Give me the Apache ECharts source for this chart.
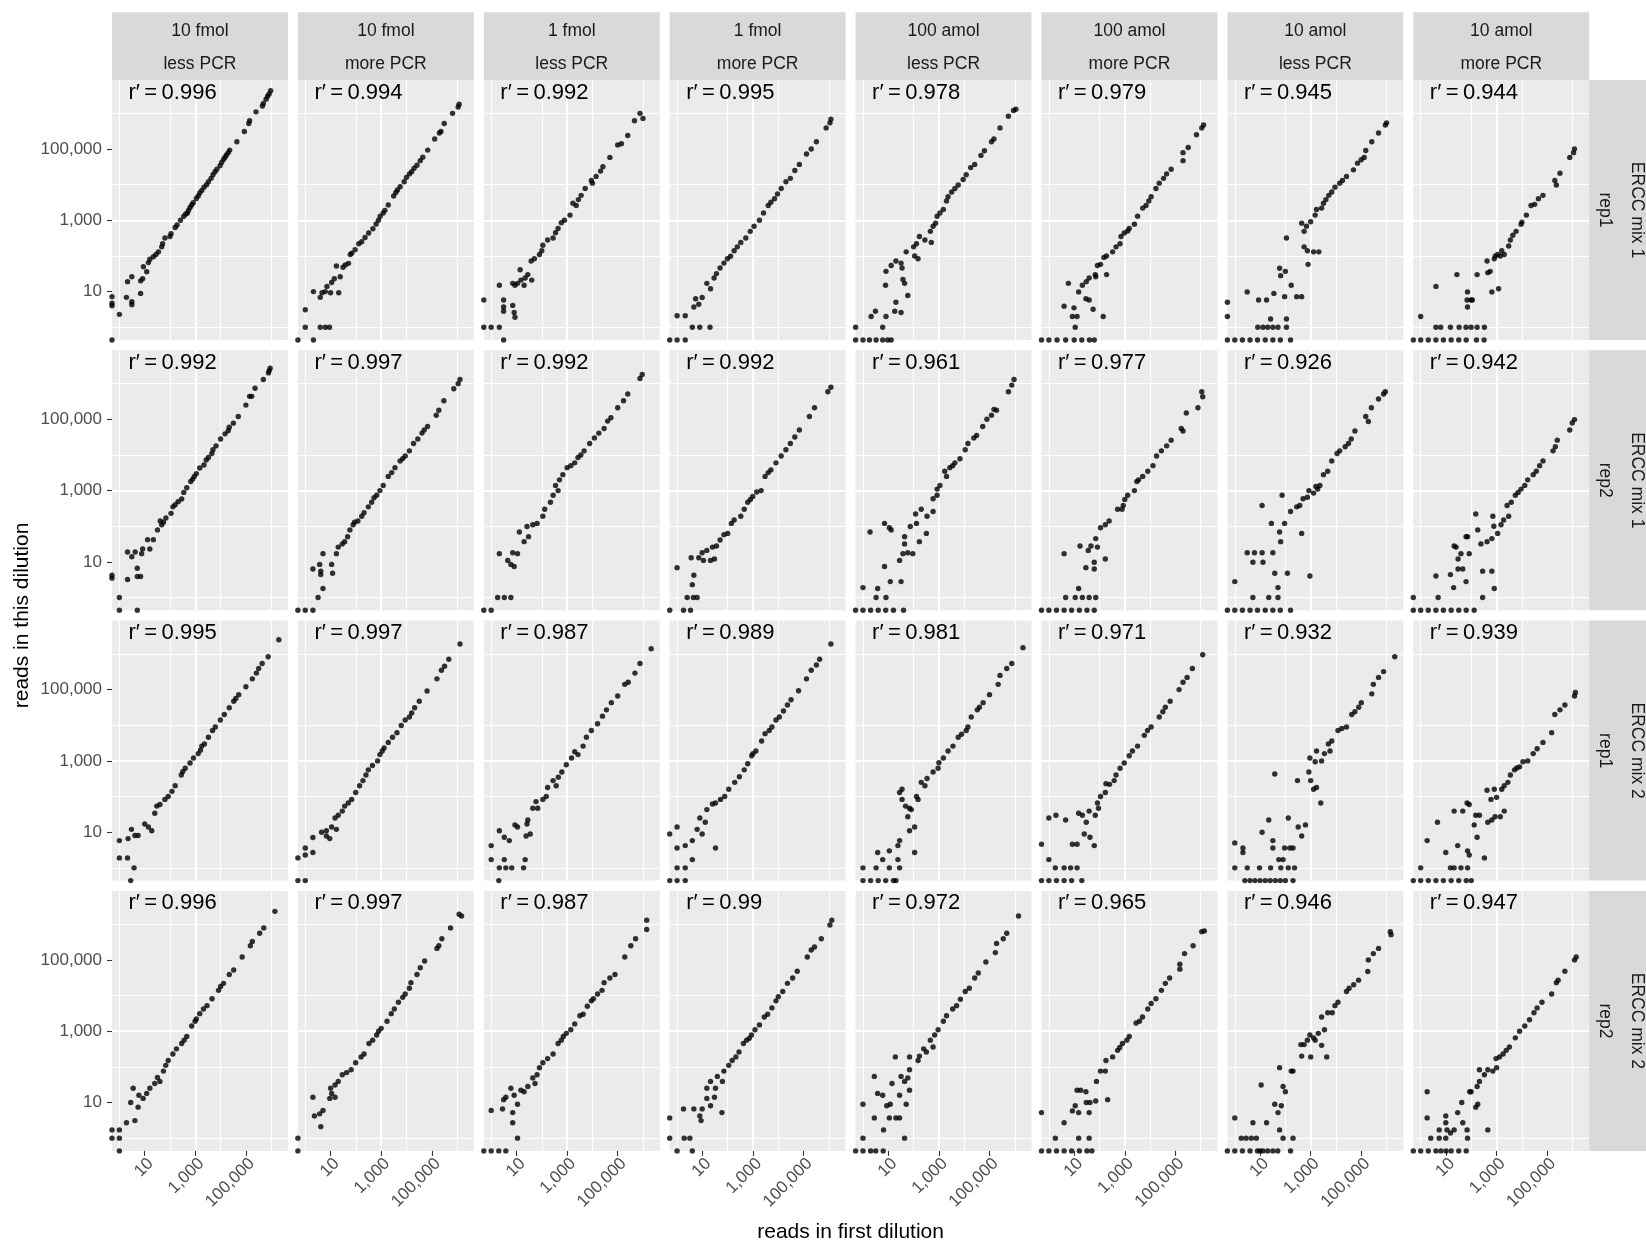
<!DOCTYPE html>
<html>
<head>
<meta charset="utf-8">
<script src="https://cdn.jsdelivr.net/npm/echarts@6/dist/echarts.min.js"></script>
<style>
  html, body { margin: 0; padding: 0; background: #ffffff; }
  #chart { width: 1646px; height: 1245px; }
</style>
</head>
<body>
<div id="chart"></div>
<script>
// ERCC spike-in read counts, one pair per transcript:
// [reads in first dilution, reads in this dilution]; 0 means no reads.

// ERCC mix 1, rep1
const m1r1_10fLess = [[9.5e5,4.3e6],[8.3e5,3.5e6],[7.2e5,3.0e6],[6.3e5,2.5e6],[4.9e5,1.9e6],[4.5e5,1.6e6],[2.5e5,1.1e6],[1.4e5,6.2e5],[1.3e5,5.2e5],[8.7e4,3.1e5],[4.4e4,1.6e5],[2.3e4,9.3e4],[2.0e4,7.9e4],[1.7e4,6.8e4],[1.5e4,5.9e4],[1.3e4,5.1e4],[1.1e4,4.2e4],[9500,3.4e4],[7100,2.7e4],[6000,2.3e4],[5000,1.9e4],[4200,1.5e4],[3300,1.2e4],[2800,1.0e4],[2200,8500],[1800,6900],[1500,5800],[1300,4800],[1100,4100],[830,3100],[720,2700],[620,2300],[540,1900],[490,1600],[420,1500],[350,1300],[260,1000],[190,740],[160,630],[110,420],[100,350],[63,320],[51,220],[47,180],[35,130],[28,110],[22,95],[16,81],[14,65],[12,36],[8.9,50],[8.3,23],[6.9,20],[3.1,26],[2.1,19],[3.1,4.3],[3.1,5.2],[1.9,6.9],[6.9,8.9],[1,2.3],[0,7.2],[0,4.7],[0,4],[0,0]];
const m1r1_10fMore = [[1.2e6,1.8e6],[1.1e6,1.5e6],[6.6e5,1.0e6],[3.1e5,5.2e5],[2.3e5,3.1e5],[2.0e5,2.8e5],[1.3e5,1.9e5],[6.9e4,9.3e4],[4.4e4,5.9e4],[3.5e4,4.7e4],[2.6e4,3.5e4],[2.0e4,2.9e4],[1.6e4,2.3e4],[1.3e4,2.0e4],[1.0e4,1.6e4],[8100,1.2e4],[5600,8700],[4400,7100],[3800,6000],[3100,4800],[1900,2700],[1400,1900],[1200,1600],[910,1300],[780,1000],[630,790],[470,580],[320,440],[230,330],[170,250],[130,220],[93,150],[69,120],[60,110],[51,62],[38,56],[31,48],[24,26],[17,52],[14,23],[11,18],[7.2,14],[6.2,10],[4.6,9.3],[3.9,6.9],[10,9.3],[21,9.3],[2.1,10],[1,3.1],[1,1],[3.9,1],[6.2,1],[9.1,1],[2.1,0],[0,0]];
const m1r1_1fLess = [[7.6e5,1.0e6],[1.0e6,7.2e5],[4.6e5,6.2e5],[2.5e5,2.4e5],[1.4e5,1.4e5],[1.0e5,1.3e5],[4.9e4,5.8e4],[2.6e4,3.2e4],[2.1e4,2.4e4],[1.4e4,1.7e4],[1.0e4,1.1e4],[9100,1.3e4],[5200,7800],[3600,5000],[2800,3800],[2300,2600],[1700,3000],[1300,1400],[790,1000],[590,850],[440,590],[350,450],[280,320],[170,280],[110,200],[100,140],[81,110],[51,83],[38,72],[40,21],[28,30],[22,24],[20,15],[14,41],[15,21],[11,17],[8.7,15],[7.1,17],[2.1,15],[3.1,5.8],[3.1,3.7],[3.1,2.8],[7.1,4.1],[8.1,2.6],[8.7,1.9],[0,5.8],[0,1],[1,1],[2.1,1],[3.1,0]];
const m1r1_1fMore = [[1.2e6,6.8e5],[1.1e6,5.4e5],[7.8e5,3.9e5],[3.2e5,1.6e5],[2.0e5,1.0e5],[1.3e5,7.2e4],[6.8e4,3.7e4],[4.5e4,2.5e4],[3.0e4,1.5e4],[2.0e4,1.2e4],[1.3e4,7800],[9300,5500],[7100,4000],[5100,3200],[4000,2600],[2600,1600],[1800,1000],[1100,680],[780,490],[520,320],[330,240],[240,180],[180,140],[130,98],[98,83],[71,63],[50,46],[36,32],[29,24],[21,12],[15,17],[9.8,6.8],[7.2,4.4],[5.4,6.3],[4.6,3.7],[2.1,2.1],[1,2.1],[4,1],[7.9,1],[20,1],[0,0],[1,0],[2.1,0]];
const m1r1_100aLess = [[1.1e6,1.3e6],[8.9e5,1.2e6],[5.6e5,8.3e5],[2.6e5,3.9e5],[1.5e5,1.9e5],[1.2e5,1.6e5],[6.3e4,8.9e4],[4.6e4,6.6e4],[2.6e4,3.7e4],[1.8e4,3.0e4],[1.2e4,1.9e4],[9100,1.4e4],[5800,9800],[4300,7800],[3200,6200],[2300,4600],[2000,3500],[1500,2000],[1100,1600],[850,1300],[740,830],[590,680],[460,490],[500,240],[280,280],[170,350],[130,220],[100,180],[110,100],[150,83],[51,130],[32,63],[20,72],[13,54],[8.1,37],[7.8,15],[35,46],[38,22],[44,17],[59,7.8],[20,5],[18,2.8],[32,2.6],[8.1,2],[3.1,2.8],[2.1,2],[6,1],[0,1],[0,0],[1,0],[1.8,0],[3.3,0],[6,0],[9.5,0],[13,0]];
const m1r1_100aMore = [[1.3e6,4.7e5],[1.1e6,3.9e5],[6.8e5,2.5e5],[3.2e5,1.1e5],[2.0e5,7.9e4],[2.0e5,4.7e4],[6.8e4,2.7e4],[4.5e4,2.0e4],[3.4e4,1.5e4],[2.3e4,1.1e4],[1.7e4,7800],[1.1e4,4600],[8900,3500],[6900,2600],[5100,2200],[3200,1300],[2400,780],[1500,590],[1300,500],[950,440],[710,350],[650,220],[450,180],[330,130],[190,100],[150,91],[110,58],[83,54],[68,30],[39,24],[30,19],[21,15],[15,9.8],[29,6.3],[39,5.8],[56,3.2],[140,2],[190,30],[71,26],[5.9,17],[4,3.9],[9.8,3.5],[13,2],[8.5,2],[11,1],[0,0],[1,0],[2.1,0],[4.6,0],[10,0],[20,0],[40,0],[62,0]];
const m1r1_10aLess = [[1.0e6,5.4e5],[8.9e5,4.7e5],[4.8e5,2.8e5],[2.6e5,1.6e5],[1.5e5,9.1e4],[1.3e5,5.8e4],[1.0e5,5.0e4],[7.1e4,4.0e4],[4.9e4,2.6e4],[2.6e4,1.7e4],[1.8e4,1.3e4],[1.4e4,1.1e4],[9100,8500],[6800,6200],[5200,5000],[4000,3800],[3200,3000],[2700,2200],[1700,2000],[1500,1400],[1000,910],[1300,130],[2100,130],[740,140],[550,180],[550,490],[440,830],[680,680],[790,58],[110,320],[100,37],[59,45],[65,28],[170,15],[93,7.2],[280,7.2],[440,7.2],[35,8.9],[18,5.8],[8.7,5.8],[3.1,9.8],[0,5],[0,2],[26,1.7],[110,1.7],[8.1,1],[13,1],[20,1],[32,1],[51,1],[110,1],[0,0],[1,0],[2,0],[4,0],[7.9,0],[16,0],[32,0],[63,0],[160,0]];
const m1r1_10aMore = [[1.2e6,1.0e5],[1.1e6,7.9e4],[7.8e5,5.8e4],[3.2e5,2.1e4],[2.0e5,1.3e4],[2.3e5,9800],[6.8e4,5000],[4.5e4,4000],[3.2e4,2800],[2.3e4,2600],[1.5e4,1400],[1.0e4,890],[9300,780],[5900,490],[4400,380],[3500,280],[3000,190],[2000,110],[1600,140],[1400,100],[1100,110],[890,100],[810,83],[560,37],[450,34],[420,72],[1200,12],[650,9.8],[170,30],[71,9.8],[68,5.8],[98,5.8],[110,5.8],[71,3.7],[27,30],[4,14],[1,2],[4,1],[6.2,1],[15,1],[33,1],[62,1],[98,1],[170,1],[330,1],[0,0],[1,0],[2,0],[4,0],[7.9,0],[16,0],[32,0],[63,0],[160,0],[320,0]];

// ERCC mix 1, rep2
const m1r2_10fLess = [[9.1e5,2.7e6],[8.3e5,2.3e6],[7.8e5,2.0e6],[4.9e5,1.3e6],[2.3e5,7.4e5],[1.7e5,4.4e5],[1.4e5,4.4e5],[1.0e5,2.5e5],[5.0e4,1.2e5],[3.2e4,7.8e4],[2.2e4,6.0e4],[2.0e4,4.8e4],[1.5e4,3.9e4],[1.0e4,2.8e4],[6600,1.8e4],[5000,1.4e4],[4500,1.1e4],[3300,8500],[2700,7200],[2200,5200],[1500,4300],[1100,3000],[910,2500],[790,2100],[660,1800],[460,1200],[350,890],[290,580],[210,490],[160,400],[130,350],[110,230],[69,170],[55,130],[47,110],[41,140],[32,79],[22,42],[13,42],[16,23],[8.3,23],[7.6,17],[4.2,19],[3.1,14],[2.1,19],[5.1,6.6],[5.1,3.9],[6.9,3.9],[2.1,3.2],[1,1],[0,4.2],[0,3.5],[1,0],[5.1,0]];
const m1r2_10fMore = [[1.3e6,1.3e6],[1.1e6,1.0e6],[7.4e5,7.2e5],[3.0e5,3.3e5],[1.9e5,1.8e5],[1.5e5,1.3e5],[6.8e4,6.3e4],[5.0e4,5.0e4],[4.1e4,4.1e4],[2.8e4,2.8e4],[1.9e4,2.1e4],[1.3e4,1.3e4],[8900,9300],[7100,7900],[5600,6800],[3500,4400],[2600,3200],[1900,2500],[1200,1400],[890,1000],[660,740],[520,630],[420,470],[310,350],[210,240],[170,190],[120,140],[89,130],[78,110],[58,79],[47,51],[36,37],[29,32],[20,26],[17,17],[11,8.5],[12,4.8],[5,17],[3.7,8.5],[4.1,5.5],[4.1,4.4],[5,1.8],[2,6.3],[3.2,1],[0,0],[1,0],[2,0]];
const m1r2_1fLess = [[9.3e5,1.8e6],[7.6e5,1.4e6],[2.5e5,5.1e5],[1.7e5,3.3e5],[1.0e5,2.1e5],[5.4e4,1.1e5],[4.0e4,8.9e4],[2.9e4,5.5e4],[1.8e4,4.1e4],[1.2e4,3.0e4],[7800,2.1e4],[4700,1.3e4],[3500,1.0e4],[2700,8500],[2000,6000],[1400,5000],[1000,4400],[680,2800],[500,2000],[440,1000],[350,1400],[280,740],[220,470],[130,300],[110,190],[65,120],[44,110],[26,98],[30,51],[20,37],[13,69],[11,17],[7.1,18],[4.5,11],[2.1,17],[6,8.5],[8.1,7.4],[1.8,1],[3.3,1],[6,1],[0,0],[1,0]];
const m1r2_1fMore = [[1.2e6,7.9e5],[9.1e5,5.9e5],[2.7e5,2.1e5],[1.7e5,1.2e5],[6.8e4,5.0e4],[4.5e4,3.2e4],[3.0e4,2.1e4],[2.0e4,1.4e4],[1.3e4,9300],[8100,6000],[5100,3800],[4000,3200],[3000,2500],[2100,1000],[1400,910],[980,680],[790,560],[620,470],[450,300],[330,190],[180,150],[140,120],[100,63],[71,58],[50,41],[36,28],[25,26],[15,21],[11,11],[21,11],[30,12],[9.8,18],[7.2,13],[3.6,13],[1,6.9],[4.6,4.2],[4,2.3],[2.5,1],[4.4,1],[6.2,1],[0,0],[1.8,0],[3.4,0]];
const m1r2_100aLess = [[9.3e5,1.3e6],[7.6e5,9.1e5],[5.6e5,5.9e5],[1.9e5,1.8e5],[1.5e5,1.9e5],[1.2e5,1.3e5],[7.9e4,1.0e5],[5.4e4,6.3e4],[3.1e4,3.5e4],[2.4e4,3.0e4],[1.4e4,2.1e4],[1.1e4,1.4e4],[6800,7800],[4300,6000],[3500,5000],[2700,4400],[2000,2500],[1700,3500],[1100,1400],[850,1100],[850,740],[590,590],[590,260],[340,190],[200,300],[120,220],[130,120],[320,63],[170,37],[74,98],[44,51],[44,32],[38,17],[59,18],[93,17],[28,11],[11,91],[13,79],[7.1,120],[1.9,69],[7.1,7.4],[12,2.8],[32,2.8],[3.8,1.8],[1,1.9],[3.3,1],[8.1,1],[0,0],[1,0],[2,0],[4,0],[7.9,0],[16,0],[40,0]];
const m1r2_100aMore = [[1.1e6,5.9e5],[1.2e6,4.3e5],[7.8e5,2.1e5],[2.7e5,1.5e5],[1.7e5,5.5e4],[2.0e5,4.7e4],[6.8e4,2.6e4],[4.5e4,1.8e4],[2.8e4,1.3e4],[1.8e4,9300],[1.3e4,5000],[8100,3500],[5100,2500],[3500,2000],[3000,1800],[2400,1000],[1300,740],[1000,560],[870,380],[780,300],[520,300],[240,140],[170,110],[110,91],[71,45],[83,26],[46,28],[36,21],[17,28],[29,6.9],[62,6.3],[62,9.8],[170,12],[4,17],[15,1.8],[4.6,1],[11,1],[21,1],[39,1],[71,1],[0,0],[1,0],[2,0],[4,0],[7.9,0],[16,0],[32,0],[62,0]];
const m1r2_10aLess = [[8.9e5,5.9e5],[7.6e5,5.1e5],[4.8e5,3.7e5],[2.5e5,2.1e5],[1.5e5,1.2e5],[1.9e5,8.7e4],[5.6e4,4.7e4],[4.0e4,2.8e4],[3.1e4,2.1e4],[2.3e4,1.7e4],[1.4e4,1.3e4],[1.1e4,1.1e4],[6800,6800],[4700,3500],[3200,2800],[2300,1400],[1900,1100],[1600,1300],[1300,850],[850,1000],[740,650],[500,590],[370,380],[280,350],[160,260],[93,120],[74,740],[440,63],[59,69],[65,37],[28,120],[12,380],[32,18],[6,18],[3.1,18],[12,18],[5.2,9.8],[13,9.8],[1,2.8],[38,4.8],[120,4.8],[930,4],[51,1.9],[5.2,1],[22,1],[51,1],[0,0],[1,0],[2,0],[4,0],[7.9,0],[16,0],[32,0],[63,0],[160,0]];
const m1r2_10aMore = [[1.2e6,9.8e4],[9.8e5,7.9e4],[7.8e5,5.0e4],[2.5e5,2.6e4],[2.1e5,1.7e4],[1.7e5,1.3e4],[6.8e4,6800],[5.0e4,5000],[3.7e4,3500],[2.8e4,2800],[1.7e4,2000],[1.3e4,1400],[9300,1100],[7100,890],[5500,740],[3800,470],[2600,380],[3000,190],[1900,150],[1500,110],[1100,63],[780,100],[650,45],[710,190],[420,37],[240,32],[150,220],[180,79],[71,51],[62,51],[83,17],[39,17],[21,28],[30,6.3],[25,26],[15,4.4],[20,1.9],[30,12],[46,6.3],[62,2.8],[280,5.5],[650,5.5],[280,1],[810,1.8],[4,4],[4.9,1],[0,1],[0,0],[1,0],[2,0],[4,0],[7.9,0],[16,0],[32,0],[63,0],[130,0]];

// ERCC mix 2, rep1
const m2r1_10fLess = [[2.0e6,2.5e6],[7.6e5,8.3e5],[4.4e5,5.4e5],[3.2e5,3.9e5],[2.6e5,2.9e5],[1.8e5,2.0e5],[1.0e5,1.2e5],[5.2e4,7.2e4],[4.0e4,5.6e4],[3.3e4,4.7e4],[2.2e4,3.1e4],[1.4e4,2.0e4],[9800,1.4e4],[6200,8900],[4800,7100],[3300,4600],[2300,3000],[1800,2600],[1600,2000],[1300,1600],[850,1200],[620,870],[400,620],[320,500],[280,400],[160,200],[120,140],[85,100],[63,83],[40,60],[30,54],[25,34],[19,11],[14,14],[10,17],[5.5,8.1],[4.1,8.1],[3.0,12],[2.2,6.6],[1,5.8],[1,1.9],[2.1,1.9],[3.8,1],[2.8,0]];
const m2r1_10fMore = [[1.3e6,1.9e6],[4.7e5,7.1e5],[3.2e5,4.5e5],[2.4e5,3.5e5],[1.6e5,2.0e5],[6.5e4,9.1e4],[3.2e4,4.7e4],[2.1e4,3.1e4],[1.6e4,2.2e4],[1.3e4,1.7e4],[8900,1.4e4],[6200,9800],[4200,6200],[2800,4600],[1900,3300],[1300,2300],[1100,1900],[890,1500],[720,1000],[450,740],[310,560],[250,400],[190,280],[140,200],[98,130],[68,83],[50,66],[36,54],[29,39],[20,30],[15,25],[11,14],[17,12],[9.3,6.6],[6.8,11],[6.8,7.8],[4.4,10],[2,7.1],[1,3.6],[1,2.3],[2,2.7],[0,1.9],[1,0],[0,0]];
const m2r1_1fLess = [[2.1e6,1.4e6],[7.6e5,5.4e5],[4.8e5,2.9e5],[2.6e5,1.6e5],[1.9e5,1.4e5],[1.0e5,6.6e4],[5.6e4,4.3e4],[3.6e4,2.7e4],[2.5e4,1.8e4],[1.6e4,1.1e4],[9100,7100],[5800,4600],[4300,2600],[2700,1500],[2000,1800],[1500,1200],[930,780],[620,490],[450,350],[370,200],[280,280],[170,180],[150,100],[110,83],[69,47],[44,47],[59,72],[28,22],[26,17],[35,8.9],[24,7.8],[11,14],[8.7,16],[5.2,5.8],[3.3,7.2],[2.1,11],[1,4.2],[1,1.7],[3.3,1.7],[2.1,1],[3.8,1],[6.5,1],[22,1.7],[19,1],[2,0]];
const m2r1_1fMore = [[1.2e6,1.9e6],[4.3e5,7.1e5],[3.2e5,4.9e5],[2.0e5,3.5e5],[1.3e5,2.0e5],[6.3e4,9.3e4],[3.2e4,5.2e4],[2.3e4,3.7e4],[1.6e4,2.5e4],[1.1e4,1.7e4],[8100,1.4e4],[5600,8900],[4400,7100],[3000,5800],[2200,3600],[1300,1900],[1000,1600],[890,1400],[620,830],[450,560],[290,360],[190,250],[110,160],[76,100],[52,83],[33,66],[25,62],[15,43],[7.9,25],[13,19],[6.2,12],[9.8,8.9],[4,5.8],[33,3.6],[1,14],[0,8.9],[1,3.6],[2.1,4.2],[4,1.7],[1,1],[2.1,1],[0,0],[1,0],[2.1,0]];
const m2r1_100aLess = [[2.1e6,1.5e6],[7.6e5,5.4e5],[4.8e5,3.9e5],[2.6e5,2.5e5],[2.2e5,1.4e5],[1.0e5,7.2e4],[5.6e4,4.3e4],[4.0e4,3.2e4],[3.3e4,2.7e4],[1.9e4,1.7e4],[1.4e4,8900],[1.2e4,7100],[7900,5600],[5800,4600],[3600,2600],[2300,1900],[1500,1200],[1000,890],[930,620],[590,490],[340,320],[280,200],[200,250],[150,83],[130,100],[81,43],[69,47],[48,54],[35,83],[28,130],[35,160],[59,27],[110,14],[69,11],[110,2.7],[28,5.8],[24,4.2],[11,3],[24,1.7],[3.8,2.7],[6,1.7],[1,1],[3.3,1],[11,1],[28,1],[1,0],[2,0],[4,0],[7.9,0],[16,0],[20,0]];
const m2r1_100aMore = [[1.2e6,9.5e5],[4.7e5,3.9e5],[2.9e5,2.2e5],[2.0e5,1.6e5],[1.4e5,1.0e5],[6.2e4,4.7e4],[4.0e4,3.2e4],[3.2e4,2.4e4],[2.3e4,1.7e4],[1.1e4,8900],[7900,7100],[5900,5200],[3200,2600],[2000,1900],[1500,1400],[950,870],[650,620],[450,400],[380,280],[250,220],[180,230],[170,130],[110,100],[83,66],[91,47],[68,30],[39,39],[30,19],[21,30],[15,34],[25,8.9],[42,7.2],[62,4.2],[13,4.6],[8.5,4.6],[1,25],[1.9,30],[4.6,22],[0,4.6],[1,1.7],[1.8,1],[4,1],[7.2,1],[13,1],[0,0],[1,0],[2,0],[4,0],[7.9,0],[20,0]];
const m2r1_10aLess = [[2.1e6,8.3e5],[7.6e5,3.2e5],[4.8e5,2.2e5],[3.0e5,1.4e5],[2.6e5,7.6e4],[1.0e5,4.3e4],[7.9e4,3.2e4],[5.6e4,2.4e4],[4.2e4,2.0e4],[2.6e4,8900],[1.7e4,8100],[1.2e4,7100],[6800,3600],[5000,3000],[3500,1600],[5800,1900],[2700,1000],[1500,950],[1700,1900],[930,1200],[850,490],[1000,280],[1700,180],[2500,66],[1300,160],[300,280],[38,430],[130,25],[22,22],[12,10],[320,14],[620,16],[440,7.8],[32,5.8],[32,3.6],[93,3.6],[150,3.6],[200,3.6],[55,1.7],[81,1.7],[1,5],[2.1,3.6],[2.1,2.7],[1,1],[3.1,1],[9.5,1],[26,1],[66,1],[130,1],[230,1],[2.5,0],[4,0],[6.3,0],[10,0],[16,0],[25,0],[40,0],[63,0],[100,0],[200,0]];
const m2r1_10aMore = [[1.3e6,8.3e4],[1.2e6,6.6e4],[5.0e5,3.7e4],[3.2e5,2.7e4],[2.0e5,2.0e4],[1.5e5,6200],[6.8e4,3300],[4.0e4,2200],[2.8e4,1600],[1.7e4,1000],[1.1e4,950],[8100,680],[6300,630],[5100,560],[3500,400],[2800,250],[2000,200],[1600,160],[1000,95],[810,160],[600,83],[420,150],[2000,39],[1400,27],[870,27],[650,22],[450,19],[210,30],[150,30],[83,60],[68,66],[130,16],[170,7.2],[46,39],[21,39],[29,4.2],[71,3],[83,2.3],[330,1.9],[4.6,19],[1.8,5.8],[9.8,2.7],[1,1],[15,1],[21,1],[39,1],[71,1],[0,0],[1,0],[2,0],[4,0],[7.9,0],[16,0],[32,0],[63,0],[100,0]];

// ERCC mix 2, rep2
const m2r2_10fLess = [[1.4e6,2.3e6],[5.1e5,7.9e5],[3.5e5,5.6e5],[1.8e5,3.3e5],[1.5e5,2.5e5],[7.1e4,1.2e5],[3.3e4,5.2e4],[2.2e4,3.9e4],[1.3e4,2.2e4],[1.0e4,1.8e4],[8300,1.4e4],[4600,8100],[2900,5200],[2100,4200],[1500,3100],[1100,2200],[980,1900],[720,1400],[460,710],[360,560],[290,450],[180,320],[130,230],[85,150],[68,110],[55,76],[40,39],[32,50],[25,34],[16,25],[12,18],[8.7,13],[5.5,7.4],[3.5,25],[5.9,16],[2.8,10],[4.1,3.1],[1.9,2.7],[1,1.7],[1,1],[0,1.7],[0,1],[1,0]];
const m2r2_10fMore = [[1.2e6,1.9e6],[1.5e6,1.7e6],[5.5e5,7.9e5],[2.5e5,3.9e5],[1.9e5,2.5e5],[1.6e5,2.1e5],[5.2e4,9.3e4],[3.5e4,6.0e4],[2.6e4,3.9e4],[1.5e4,2.3e4],[1.3e4,1.6e4],[8900,1.1e4],[7100,8900],[4800,6500],[3300,4200],[2500,3100],[1700,1900],[1000,1200],[790,1000],[660,780],[460,560],[330,450],[210,230],[160,190],[98,130],[65,83],[43,69],[29,60],[20,39],[15,31],[10,25],[11,18],[15,14],[9.3,13],[5,6],[2,14],[2.3,4.2],[3.7,4.8],[4.1,2.1],[0,1],[0,0]];
const m2r2_1fLess = [[1.4e6,1.3e6],[1.4e6,7.1e5],[5.1e5,3.9e5],[3.3e5,2.5e5],[1.9e5,1.2e5],[7.8e4,3.9e4],[4.9e4,3.1e4],[2.9e4,2.3e4],[2.4e4,1.4e4],[1.6e4,1.1e4],[1.1e4,8100],[9100,7100],[6300,5000],[4300,3000],[3200,2700],[2000,1600],[1400,1100],[930,870],[710,710],[590,560],[440,450],[280,230],[170,170],[110,130],[81,95],[65,60],[54,34],[44,49],[28,28],[20,20],[15,22],[11,8.9],[6,25],[3.8,14],[3.1,12],[8.1,16],[7.1,5.2],[2.8,6.6],[1,6],[7.1,2.7],[11,1],[0,0],[1,0],[2,0],[3.8,0]];
const m2r2_1fMore = [[1.3e6,1.3e6],[1.1e6,9.5e5],[5.0e5,3.9e5],[2.7e5,2.3e5],[2.0e5,1.9e5],[1.4e5,1.2e5],[5.6e4,4.8e4],[3.7e4,3.1e4],[2.3e4,2.2e4],[1.5e4,1.3e4],[1.0e4,9300],[8100,7100],[5600,4500],[3800,3000],[2800,2500],[1800,1500],[1200,1100],[870,780],[710,630],[560,560],[420,450],[280,260],[210,190],[150,150],[110,110],[71,76],[62,39],[39,54],[33,25],[21,39],[15,25],[15,13],[30,14],[21,8.1],[9.8,6.6],[7.9,4.2],[8.9,3.1],[4.6,6.6],[1.8,6.6],[59,5.2],[0,3.7],[0,1],[1.9,1],[3.2,1],[1,0],[4,0]];
const m2r2_100aLess = [[1.4e6,1.7e6],[4.8e5,5.6e5],[3.5e5,3.9e5],[1.9e5,2.9e5],[1.7e5,1.6e5],[7.2e4,8.7e4],[3.6e4,4.3e4],[2.6e4,3.1e4],[1.6e4,1.6e4],[1.1e4,1.3e4],[7100,7900],[5000,5200],[3500,4200],[2000,2700],[1500,1900],[930,1100],[680,780],[460,560],[590,360],[320,260],[250,320],[170,200],[150,150],[69,190],[69,83],[59,49],[44,39],[32,54],[28,16],[69,22],[51,8.9],[19,190],[14,34],[6,16],[2.8,54],[3.8,18],[8.7,8.1],[12,8.9],[1,8.9],[2.8,3.7],[6.5,1.7],[11,3.7],[20,3.7],[28,3.7],[44,1],[1,1],[0,0],[1,0],[2,0],[3.2,0],[6.3,0]];
const m2r2_100aMore = [[1.1e6,6.2e5],[1.4e6,6.5e5],[5.0e5,2.5e5],[2.3e5,1.5e5],[1.5e5,7.6e4],[1.5e5,5.5e4],[5.9e4,3.1e4],[4.0e4,2.2e4],[2.8e4,1.4e4],[1.7e4,8100],[1.1e4,6000],[8100,4200],[5000,2500],[3800,1900],[2800,1700],[1500,710],[1200,560],[810,450],[630,350],[520,290],[330,190],[180,150],[170,76],[110,76],[76,39],[42,10],[71,11],[210,12],[29,20],[30,10],[13,22],[18,22],[15,5.2],[8.5,5.8],[11,8.1],[4,2.7],[39,5.2],[0,5.2],[1.8,1],[15,1],[39,1],[0,0],[1,0],[2,0],[4,0],[7.9,0],[16,0],[32,0],[50,0]];
const m2r2_10aLess = [[1.4e6,6.2e5],[1.5e6,5.1e5],[4.8e5,2.1e5],[3.0e5,1.5e5],[1.9e5,1.0e5],[1.8e5,4.7e4],[7.8e4,2.7e4],[5.0e4,2.0e4],[3.3e4,1.6e4],[2.6e4,1.3e4],[1.2e4,6500],[9100,5200],[7100,3300],[4700,3300],[3500,1100],[2700,2500],[2000,870],[1500,560],[1300,650],[930,780],[740,560],[550,420],[410,420],[440,200],[1000,190],[2700,400],[4300,190],[200,76],[170,76],[59,95],[81,28],[38,8.9],[69,8.1],[100,20],[51,5.2],[11,31],[18,2.7],[5.2,2.7],[59,1.7],[200,1],[1,3.7],[1.8,1],[2.8,1],[4.5,1],[7.1,1],[81,1],[0,0],[1,0],[2,0],[4,0],[7.9,0],[10,0],[13,0],[20,0],[32,0],[50,0],[160,0]];
const m2r2_10aMore = [[1.4e6,1.2e5],[1.2e6,1.0e5],[5.0e5,4.8e4],[2.7e5,2.7e4],[2.3e5,2.3e4],[1.5e5,1.1e4],[6.2e4,6500],[4.0e4,4500],[3.0e4,3300],[2.0e4,2100],[1.3e4,1400],[8100,1000],[5500,650],[3200,360],[2400,290],[1800,230],[1300,190],[950,170],[1000,95],[710,76],[450,83],[330,60],[210,83],[210,39],[170,28],[98,20],[87,20],[180,8.9],[150,7.4],[42,10],[29,5.2],[9.8,4.2],[9.8,2.7],[15,1.4],[46,2.7],[1.8,20],[1.8,3.7],[5.4,1.7],[11,1.7],[21,1.7],[68,1.7],[450,1.7],[2.5,1],[5.4,1],[9.8,1],[71,1],[0,0],[1,0],[2,0],[4,0],[6.3,0],[10,0],[16,0],[32,0],[63,0]];

// facet labels
const spikeAmounts = ['10 fmol', '10 fmol', '1 fmol', '1 fmol', '100 amol', '100 amol', '10 amol', '10 amol'];
const pcrLevels = ['less PCR', 'more PCR', 'less PCR', 'more PCR', 'less PCR', 'more PCR', 'less PCR', 'more PCR'];
const erccMixes = ['ERCC mix 1', 'ERCC mix 1', 'ERCC mix 2', 'ERCC mix 2'];
const replicates = ['rep1', 'rep2', 'rep1', 'rep2'];

// correlation shown in each panel
const rPrime = [
  [0.996, 0.994, 0.992, 0.995, 0.978, 0.979, 0.945, 0.944],
  [0.992, 0.997, 0.992, 0.992, 0.961, 0.977, 0.926, 0.942],
  [0.995, 0.997, 0.987, 0.989, 0.981, 0.971, 0.932, 0.939],
  [0.996, 0.997, 0.987, 0.99, 0.972, 0.965, 0.946, 0.947]
];

// labelled axis breaks
const tickValues = [10, 1000, 100000];

const panels = [
  [m1r1_10fLess, m1r1_10fMore, m1r1_1fLess, m1r1_1fMore, m1r1_100aLess, m1r1_100aMore, m1r1_10aLess, m1r1_10aMore],
  [m1r2_10fLess, m1r2_10fMore, m1r2_1fLess, m1r2_1fMore, m1r2_100aLess, m1r2_100aMore, m1r2_10aLess, m1r2_10aMore],
  [m2r1_10fLess, m2r1_10fMore, m2r1_1fLess, m2r1_1fMore, m2r1_100aLess, m2r1_100aMore, m2r1_10aLess, m2r1_10aMore],
  [m2r2_10fLess, m2r2_10fMore, m2r2_1fLess, m2r2_1fMore, m2r2_100aLess, m2r2_100aMore, m2r2_10aLess, m2r2_10aMore]
];

// shared log10 scale limits (with the usual 5% padding)
const X_MIN = Math.pow(10, -0.292), X_MAX = Math.pow(10, 6.66);
const Y_MIN = Math.pow(10, -0.358), Y_MAX = Math.pow(10, 6.935);

// page layout in pixels
const LAYOUT = {
  left: 112, top: 80, pitchX: 185.9, pitchY: 270.3, panelW: 175.9, panelH: 260,
  stripTop: 12.3, stripRowH: 33.85, sideStripX: 1589.2, sideStripW: 33.85
};
const FONT = '"Liberation Sans", Arial, Helvetica, sans-serif';
const STRIP_FONT = '17.5px ' + FONT;

function tickText(v) {
  const e = Math.log10(v), k = Math.round(e);
  if (Math.abs(e - k) > 1e-6) return '';
  const n = Math.pow(10, k);
  return tickValues.indexOf(n) >= 0 ? n.toLocaleString('en-US') : '';
}

function majorAxis(dim, gridIndex, labelled) {
  const isX = dim === 'x';
  const label = {
    show: labelled, customValues: tickValues, formatter: tickText,
    color: '#4D4D4D', fontSize: 17, fontFamily: FONT,
    margin: isX ? 4 : 10, rotate: isX ? 45 : 0
  };
  if (isX) { label.align = 'right'; label.verticalAlign = 'top'; }
  return {
    type: 'log', logBase: 10, gridIndex: gridIndex,
    min: isX ? X_MIN : Y_MIN, max: isX ? X_MAX : Y_MAX,
    axisLine: { show: false },
    axisTick: { show: labelled, length: 5, customValues: tickValues, lineStyle: { color: '#333333', width: 1.1 } },
    axisLabel: label,
    splitLine: { show: true, showMinLine: false, showMaxLine: false, lineStyle: { color: '#FFFFFF', width: 2 } }
  };
}

function minorAxis(dim, gridIndex) {
  const isX = dim === 'x';
  return {
    type: 'log', logBase: 100, gridIndex: gridIndex,
    min: isX ? X_MIN : Y_MIN, max: isX ? X_MAX : Y_MAX,
    axisLine: { show: false }, axisTick: { show: false }, axisLabel: { show: false },
    splitLine: { show: true, showMinLine: false, showMaxLine: false, lineStyle: { color: '#FFFFFF', width: 1 } }
  };
}

const grids = [], xAxes = [], yAxes = [], series = [], graphics = [];

panels.forEach(function (row, r) {
  row.forEach(function (pts, c) {
    const i = grids.length;
    const left = LAYOUT.left + c * LAYOUT.pitchX;
    const top = LAYOUT.top + r * LAYOUT.pitchY;
    grids.push({ left: left, top: top, width: LAYOUT.panelW, height: LAYOUT.panelH,
      show: true, backgroundColor: '#EBEBEB', borderWidth: 0, containLabel: false });
    xAxes.push(majorAxis('x', i, r === panels.length - 1), minorAxis('x', i));
    yAxes.push(majorAxis('y', i, c === 0), minorAxis('y', i));
    series.push({
      type: 'scatter', xAxisIndex: 2 * i, yAxisIndex: 2 * i,
      symbol: 'circle', symbolSize: 5.4, itemStyle: { color: '#000000' },
      silent: true, z: 3,
      // zero counts sit on the panel border
      data: pts.map(function (p) { return [p[0] > 0 ? p[0] : X_MIN, p[1] > 0 ? p[1] : Y_MIN]; })
    });
    graphics.push({
      type: 'text', x: left + 16.5, y: top + 12.5, z: 50, silent: true,
      style: { text: 'r\u2032\u2009=\u2009' + String(rPrime[r][c]), fill: '#000000',
        font: '22px ' + FONT, align: 'left', verticalAlign: 'middle' }
    });
  });
});

// column strips
spikeAmounts.forEach(function (amt, c) {
  const left = LAYOUT.left + c * LAYOUT.pitchX;
  const cx = left + LAYOUT.panelW / 2;
  graphics.push({ type: 'rect', silent: true, z: 40,
    shape: { x: left, y: LAYOUT.stripTop, width: LAYOUT.panelW, height: 2 * LAYOUT.stripRowH },
    style: { fill: '#D9D9D9' } });
  graphics.push({ type: 'text', x: cx, y: LAYOUT.stripTop + LAYOUT.stripRowH / 2 + 1.5, z: 41, silent: true,
    style: { text: amt, fill: '#1A1A1A', font: STRIP_FONT, align: 'center', verticalAlign: 'middle' } });
  graphics.push({ type: 'text', x: cx, y: LAYOUT.stripTop + 1.5 * LAYOUT.stripRowH + 1.5, z: 41, silent: true,
    style: { text: pcrLevels[c], fill: '#1A1A1A', font: STRIP_FONT, align: 'center', verticalAlign: 'middle' } });
});

// row strips
erccMixes.forEach(function (mix, r) {
  const top = LAYOUT.top + r * LAYOUT.pitchY;
  const cy = top + LAYOUT.panelH / 2;
  graphics.push({ type: 'rect', silent: true, z: 40,
    shape: { x: LAYOUT.sideStripX, y: top, width: 2 * LAYOUT.sideStripW, height: LAYOUT.panelH },
    style: { fill: '#D9D9D9' } });
  graphics.push({ type: 'text', x: LAYOUT.sideStripX + LAYOUT.sideStripW / 2 - 1, y: cy, rotation: -Math.PI / 2, z: 41, silent: true,
    style: { text: replicates[r], fill: '#1A1A1A', font: STRIP_FONT, align: 'center', verticalAlign: 'middle' } });
  graphics.push({ type: 'text', x: LAYOUT.sideStripX + 1.5 * LAYOUT.sideStripW - 3.5, y: cy, rotation: -Math.PI / 2, z: 41, silent: true,
    style: { text: mix, fill: '#1A1A1A', font: STRIP_FONT, align: 'center', verticalAlign: 'middle' } });
});

// axis titles
const panelsRight = LAYOUT.left + 7 * LAYOUT.pitchX + LAYOUT.panelW;
const panelsBottom = LAYOUT.top + 3 * LAYOUT.pitchY + LAYOUT.panelH;
graphics.push({ type: 'text', x: (LAYOUT.left + panelsRight) / 2, y: 1232, z: 41, silent: true,
  style: { text: 'reads in first dilution', fill: '#000000', font: '21px ' + FONT, align: 'center', verticalAlign: 'middle' } });
graphics.push({ type: 'text', x: 22, y: (LAYOUT.top + panelsBottom) / 2, rotation: Math.PI / 2, z: 41, silent: true,
  style: { text: 'reads in this dilution', fill: '#000000', font: '21px ' + FONT, align: 'center', verticalAlign: 'middle' } });

const chart = echarts.init(document.getElementById('chart'), null, { renderer: 'canvas', width: 1646, height: 1245 });
chart.setOption({
  animation: false,
  backgroundColor: '#FFFFFF',
  grid: grids,
  xAxis: xAxes,
  yAxis: yAxes,
  series: series,
  graphic: { elements: graphics }
});
</script>
</body>
</html>
